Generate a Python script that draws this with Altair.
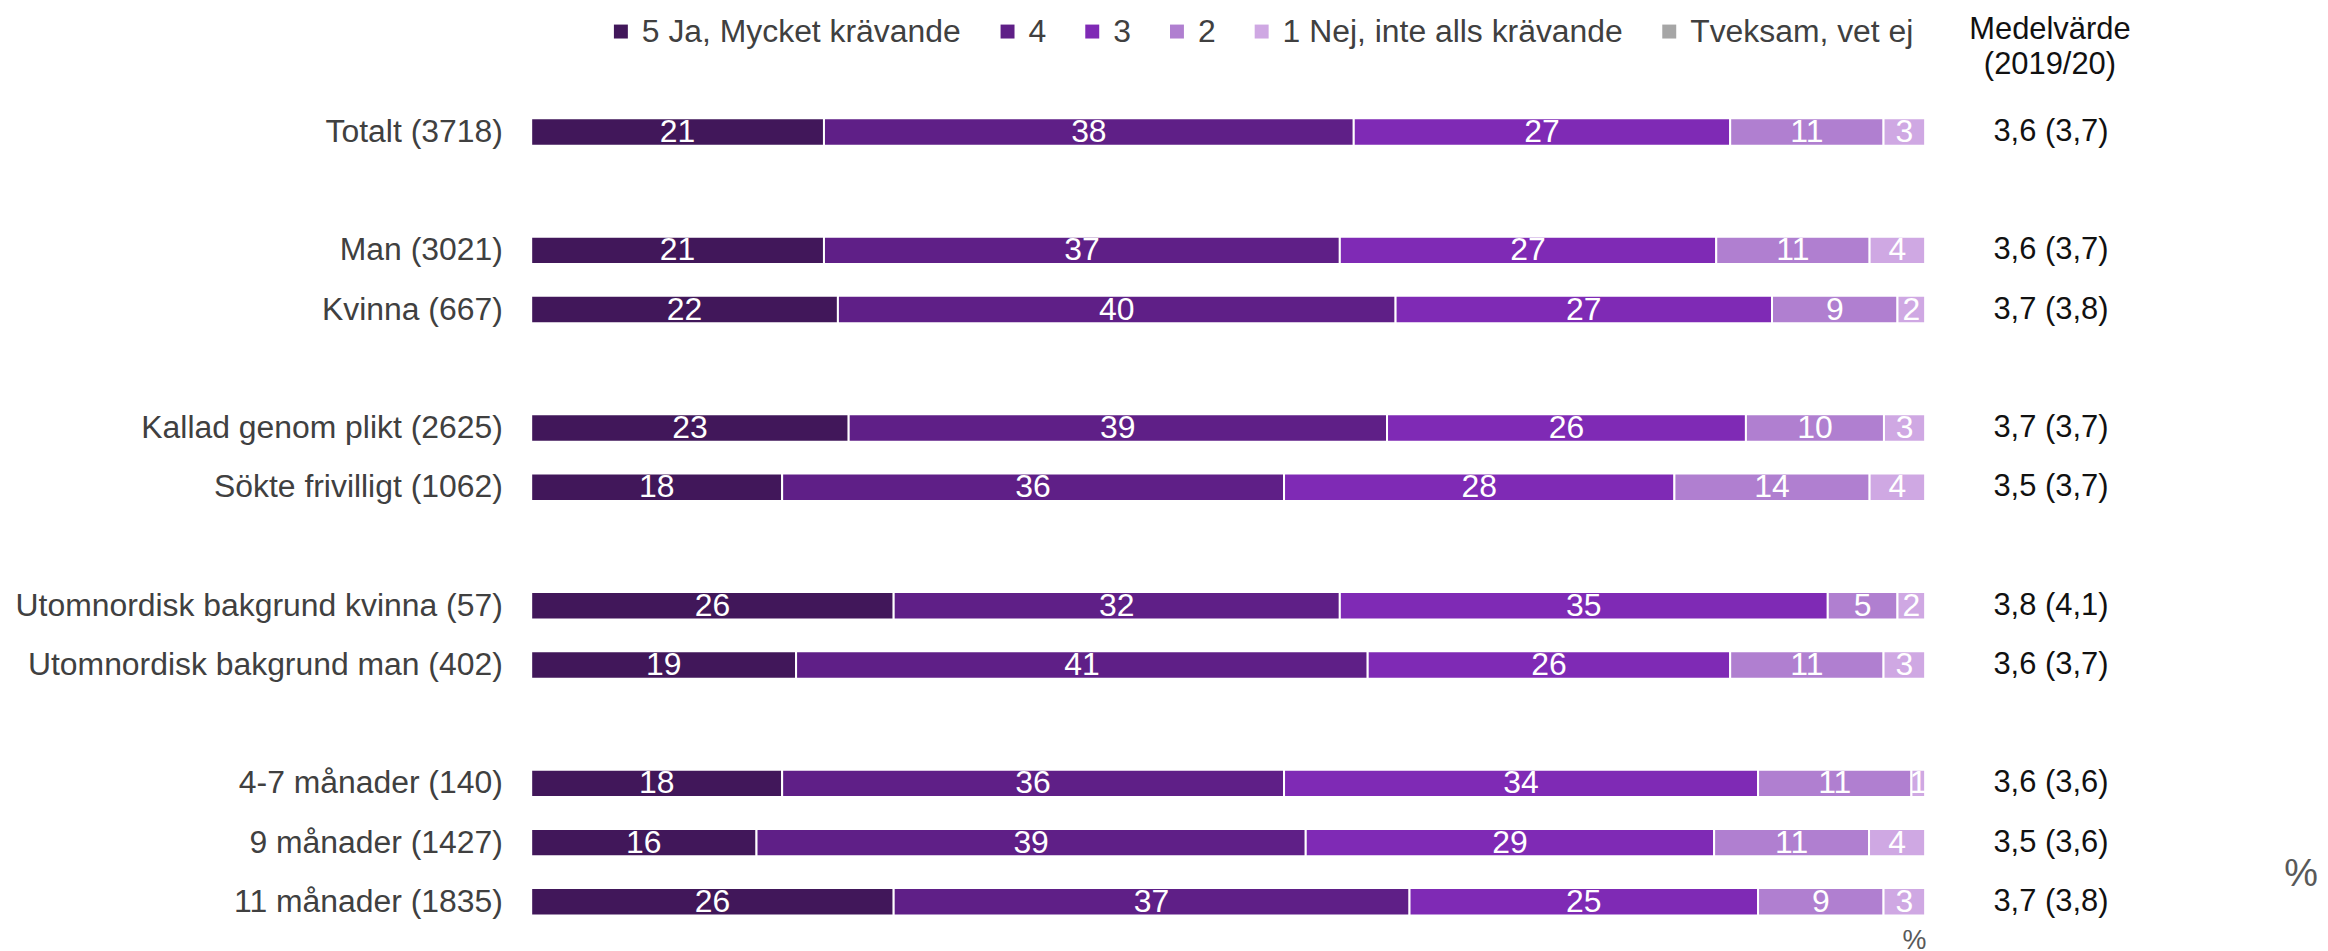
import altair as alt
import pandas as pd

# ---- data -------------------------------------------------------------
groups = [
    ["Totalt (3718)"],
    ["Man (3021)", "Kvinna (667)"],
    ["Kallad genom plikt (2625)", "Sökte frivilligt (1062)"],
    ["Utomnordisk bakgrund kvinna (57)", "Utomnordisk bakgrund man (402)"],
    ["4-7 månader (140)", "9 månader (1427)", "11 månader (1835)"],
]
categories = [c for g in groups for c in g]

series = ["5 Ja, Mycket krävande", "4", "3", "2", "1 Nej, inte alls krävande", "Tveksam, vet ej"]
colors = ["#41175A", "#5F1F87", "#7F2AB5", "#B07FD0", "#CFA8E3", "#A6A6A6"]

v5 = [21, 21, 22, 23, 18, 26, 19, 18, 16, 26]
v4 = [38, 37, 40, 39, 36, 32, 41, 36, 39, 37]
v3 = [27, 27, 27, 26, 28, 35, 26, 34, 29, 25]
v2 = [11, 11, 9, 10, 14, 5, 11, 11, 11, 9]
v1 = [3, 4, 2, 3, 4, 2, 3, 1, 4, 3]
vt = [0, 0, 0, 0, 0, 0, 0, 0, 0, 0]

medel = ["3,6 (3,7)", "3,6 (3,7)", "3,7 (3,8)", "3,7 (3,7)", "3,5 (3,7)",
         "3,8 (4,1)", "3,6 (3,7)", "3,6 (3,6)", "3,5 (3,6)", "3,7 (3,8)"]

# ---- tables -----------------------------------------------------------
rows = []
for si, (s, vals) in enumerate(zip(series, [v5, v4, v3, v2, v1, vt])):
    for c, v in zip(categories, vals):
        rows.append({"cat": c, "serie": s, "order": si, "value": v})
df = pd.DataFrame(rows)
dm = pd.DataFrame({"cat": categories, "medel": medel})

# y domain with blank spacer slots between groups
domain = []
for gi, g in enumerate(groups):
    if gi > 0:
        domain.append(f"__gap{gi}")
    domain.extend(g)

FONT = "Liberation Sans, Arial, sans-serif"

yscale = alt.Scale(domain=domain, paddingInner=0.537, paddingOuter=0.2685)
yenc = alt.Y("cat:N", scale=yscale, sort=domain,
             axis=alt.Axis(title=None, ticks=False, domain=False, labelFontSize=32,
                           labelColor="#404040", labelFont=FONT, labelPadding=29,
                           labelLimit=1000,
                           labelExpr="indexof(datum.value, '__gap') == 0 ? '' : datum.value"))
xscale = alt.Scale(domain=[0, 1], nice=False, zero=True)

base = alt.Chart(df).transform_stack(
    stack="value", groupby=["cat"], as_=["x0", "x1"], offset="normalize",
    sort=[alt.SortField("order", order="ascending")]
).transform_calculate(mid="(datum.x0 + datum.x1) / 2")

bars = base.mark_bar(stroke="white", strokeWidth=2).encode(
    y=yenc,
    x=alt.X("x0:Q", scale=xscale, axis=None),
    x2="x1:Q",
    color=alt.Color("serie:N", scale=alt.Scale(domain=series, range=colors),
                    legend=alt.Legend(title=None, orient="none", direction="horizontal",
                                      legendX=74, legendY=-87, symbolType="square",
                                      symbolSize=196, symbolStrokeWidth=0,
                                      labelFontSize=32, labelFont=FONT, labelColor="#404040",
                                      labelOffset=5, columnPadding=30, labelLimit=1000)),
)

labels = base.transform_filter("datum.value > 0").mark_text(
    color="white", fontSize=32, font=FONT, baseline="middle", align="center"
).encode(
    y=alt.Y("cat:N", scale=yscale, sort=domain),
    x=alt.X("mid:Q", scale=xscale),
    text=alt.Text("value:Q"),
)

medel_txt = alt.Chart(dm).mark_text(
    color="#111111", fontSize=31, font=FONT, baseline="middle", align="center"
).encode(
    y=alt.Y("cat:N", scale=yscale, sort=domain),
    x=alt.value(1525),
    text="medel:N",
)

header1 = alt.Chart(pd.DataFrame({"t": ["Medelvärde"]})).mark_text(
    color="#111111", fontSize=31, font=FONT, baseline="alphabetic", align="center"
).encode(x=alt.value(1524), y=alt.value(-64), text="t:N")

header2 = alt.Chart(pd.DataFrame({"t": ["(2019/20)"]})).mark_text(
    color="#111111", fontSize=31, font=FONT, baseline="alphabetic", align="center"
).encode(x=alt.value(1524), y=alt.value(-28), text="t:N")

pct_right = alt.Chart(pd.DataFrame({"t": ["%"]})).mark_text(
    color="#595959", fontSize=38, font=FONT, baseline="middle", align="center"
).encode(x=alt.value(1776), y=alt.value(775), text="t:N")

pct_bottom = alt.Chart(pd.DataFrame({"t": ["%"]})).mark_text(
    color="#595959", fontSize=27, font=FONT, baseline="alphabetic", align="right"
).encode(x=alt.value(1400), y=alt.value(850), text="t:N")

chart = alt.layer(bars, labels, medel_txt, header1, header2, pct_right, pct_bottom).properties(
    width=1399, height=832,
    autosize=alt.AutoSizeParams(type="none"),
    padding={"left": 525, "top": 93, "right": 396, "bottom": 16},
    background="white",
).configure_view(stroke=None, strokeWidth=0)

chart.save("out.html", embed_options={"renderer": "svg", "actions": False})
